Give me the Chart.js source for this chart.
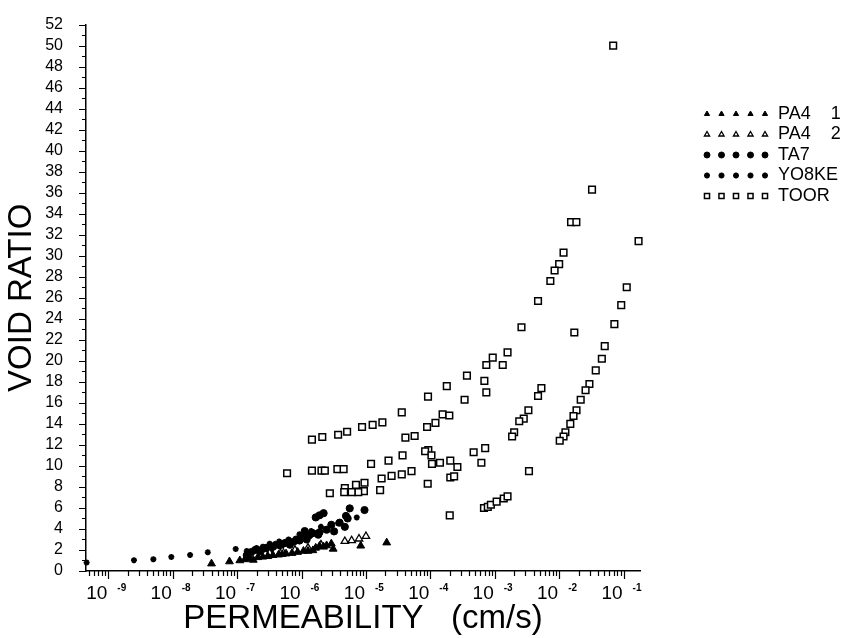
<!DOCTYPE html>
<html>
<head>
<meta charset="utf-8">
<script src="https://cdn.jsdelivr.net/npm/chart.js@4.4.1/dist/chart.umd.min.js"></script>
<style>
  html, body { margin: 0; padding: 0; background: #fff; }
  #wrap { width: 846px; height: 638px; }
</style>
</head>
<body>
<div id="wrap"><canvas id="chart" width="846" height="638"></canvas></div>
<script>
// permeability (cm/s) and void ratio
const pa41K = [4.0e-8, 7.6e-8, 1.1e-7, 1.32e-7, 1.58e-7, 1.78e-7, 2.1e-7, 2.5e-7, 3.0e-7, 3.6e-7,
  4.4e-7, 5.0e-7, 5.75e-7, 7.1e-7, 8.7e-7, 1.07e-6, 1.26e-6, 1.5e-6, 1.66e-6, 1.9e-6,
  2.2e-6, 2.45e-6, 2.9e-6, 3.1e-6, 8.3e-6, 2.1e-5];
const pa41E = [0.7, 0.9, 1.0, 1.1, 1.2, 1.05, 1.3, 1.35, 1.4, 1.5,
  1.55, 1.6, 1.65, 1.7, 1.8, 1.9, 1.9, 1.96, 2.2, 2.37,
  2.3, 2.43, 2.6, 2.1, 2.4, 2.7];

const pa42K = [3.2e-7, 5.0e-7, 7.9e-7, 1.26e-6, 2.0e-6, 4.7e-6, 6.0e-6, 7.8e-6, 1.0e-5];
const pa42E = [1.7, 1.9, 2.0, 2.2, 2.5, 2.83, 2.9, 3.06, 3.3];

const ta7K = [1.41e-7, 1.66e-7, 1.9e-7, 2.24e-7, 2.5e-7, 2.8e-7, 3.2e-7, 3.6e-7, 4.0e-7, 4.7e-7,
  5.2e-7, 5.75e-7, 6.6e-7, 7.6e-7, 8.3e-7, 9.3e-7, 1.05e-6, 1.12e-6, 1.2e-6, 1.32e-6,
  1.5e-6, 1.66e-6, 1.82e-6, 1.9e-6, 1.9e-6, 2.2e-6, 2.45e-6, 2.9e-6, 3.2e-6, 3.9e-6,
  4.7e-6, 4.9e-6, 5.2e-6, 5.6e-6, 9.5e-6];
const ta7E = [1.5, 1.8, 2.0, 1.9, 2.1, 2.2, 2.0, 2.3, 2.5, 2.4,
  2.6, 2.7, 2.5, 2.8, 3.0, 2.9, 3.2, 3.8, 3.0, 3.4,
  3.6, 5.1, 3.46, 5.3, 3.68, 5.5, 3.93, 4.4, 3.77, 4.6,
  4.2, 5.24, 5.0, 5.96, 5.8];

const yo8keK = [4.6e-10, 2.5e-9, 5.0e-9, 9.5e-9, 1.86e-8, 3.5e-8, 9.5e-8, 1.41e-7, 2.0e-7, 2.5e-7,
  3.2e-7, 4.5e-7, 6.3e-7, 9.3e-7, 1.41e-6, 2.0e-6, 3.7e-6, 7.2e-6];
const yo8keE = [0.8, 1.03, 1.12, 1.34, 1.53, 1.78, 2.1, 1.9, 2.2, 2.3,
  2.6, 2.8, 3.0, 3.5, 3.8, 4.2, 4.55, 5.1];

const toorK = [6.9e-2, 3.24e-2, 1.53e-2, 1.85e-2, 1.71e-1, 1.17e-2, 1.0e-2, 8.5e-3, 7.3e-3, 4.7e-3,
  2.6e-3, 1.72e-2, 1.12e-1, 9.2e-2, 7.2e-2, 5.1e-2, 4.6e-2, 3.7e-2, 2.95e-2, 2.57e-2,
  2.16e-2, 1.86e-2, 1.67e-2, 1.49e-2, 1.25e-2, 1.17e-2, 1.02e-2, 1.58e-3, 9.3e-4, 7.4e-4,
  1.33e-3, 6.9e-4, 7.4e-4, 5.3e-3, 4.7e-3, 3.33e-3, 2.82e-3, 2.4e-3, 2.0e-3, 1.86e-3,
  3.7e-4, 1.8e-4, 3.4e-4, 9.2e-5, 3.6e-5, 1.55e-4, 1.97e-4, 1.2e-4, 8.9e-5, 1.8e-5,
  1.27e-5, 8.7e-6, 5.1e-6, 3.7e-6, 2.1e-6, 1.45e-6, 4.1e-5, 5.7e-5, 9.3e-5, 8.3e-5,
  1.04e-4, 1.06e-4, 1.41e-4, 2.04e-4, 2.63e-4, 2.04e-4, 2.34e-4, 4.7e-4, 7.1e-4, 6.2e-4,
  3.7e-5, 2.24e-5, 1.2e-5, 5.1e-5, 3.6e-5, 2.5e-5, 1.75e-5, 9.5e-6, 7.0e-6, 4.7e-6,
  9.3e-6, 7.6e-6, 6.0e-6, 4.6e-6, 1.66e-5, 2.75e-6, 9.1e-5, 5.96e-7, 1.45e-6, 2.04e-6,
  2.3e-6, 3.6e-6, 4.5e-6, 2.0e-4, 6.8e-4, 7.8e-4, 8.7e-4, 1.07e-3, 1.38e-3, 1.58e-3,
  3.4e-3];
const toorE = [50.0, 36.3, 33.2, 33.2, 31.4, 30.3, 29.2, 28.6, 27.6, 25.7,
  23.2, 22.7, 27.0, 25.3, 23.5, 21.4, 20.2, 19.1, 17.8, 17.2,
  16.3, 15.3, 14.75, 14.0, 13.2, 12.8, 12.4, 20.8, 20.3, 19.6,
  19.6, 18.1, 17.0, 17.4, 16.65, 15.3, 14.5, 14.25, 13.2, 12.8,
  18.6, 17.6, 16.3, 16.6, 15.1, 14.9, 14.8, 14.1, 13.7, 14.15,
  13.9, 13.7, 13.25, 12.97, 12.75, 12.5, 12.7, 12.85, 11.5, 11.4,
  11.0, 10.2, 10.3, 10.5, 9.9, 8.9, 9.0, 11.3, 11.7, 10.3,
  11.0, 10.5, 10.2, 9.5, 9.2, 9.05, 8.8, 8.4, 8.2, 7.9,
  7.6, 7.5, 7.5, 7.5, 7.7, 7.4, 8.3, 9.3, 9.55, 9.55,
  9.55, 9.7, 9.7, 5.3, 6.0, 6.1, 6.3, 6.6, 6.9, 7.1,
  9.5];

const xDecades = [-9, -8, -7, -6, -5, -4, -3, -2, -1];
const X_MIN = 4.5e-10, X_MAX = 0.18;
const Y_MIN = 0, Y_MAX = 52;

const FONT = "'Liberation Sans', Arial, sans-serif";

function pts(ks, es) {
  return ks.map((k, i) => ({ x: k, y: es[i] }));
}

const series = [
  { label: "PA4    1", data: pts(pa41K, pa41E), pointStyle: "triangle", pointRadius: 4.5,
    backgroundColor: "#000", borderColor: "#000", borderWidth: 1 },
  { label: "PA4    2", data: pts(pa42K, pa42E), pointStyle: "triangle", pointRadius: 4.3,
    backgroundColor: "#fff", borderColor: "#000", borderWidth: 1.3 },
  { label: "TA7", data: pts(ta7K, ta7E), pointStyle: "circle", pointRadius: 3.6,
    backgroundColor: "#000", borderColor: "#000", borderWidth: 1 },
  { label: "YO8KE", data: pts(yo8keK, yo8keE), pointStyle: "star", pointRadius: 3,
    backgroundColor: "#000", borderColor: "#000", borderWidth: 1.8 },
  { label: "TOOR", data: pts(toorK, toorE), pointStyle: "rect", pointRadius: 4.7,
    backgroundColor: "#fff", borderColor: "#000", borderWidth: 1.5 },
];

// tick marks, decade labels with raised exponents, and the marker legend
const axisMarks = {
  id: "axisMarks",
  afterDraw(chart) {
    const { ctx } = chart;
    const x = chart.scales.x, y = chart.scales.y;
    ctx.save();
    ctx.strokeStyle = "#000";
    ctx.lineWidth = 1.2;
    ctx.beginPath();
    for (let v = Y_MIN; v <= Y_MAX; v++) {
      const py = Math.round(y.getPixelForValue(v)) + 0.5;
      const len = v % 2 === 0 ? 7 : 4;
      ctx.moveTo(x.left - len, py);
      ctx.lineTo(x.left, py);
    }
    for (let e = -10; e <= 0; e++) {
      for (let m = 1; m <= 9; m++) {
        const val = m * Math.pow(10, e);
        if (val < X_MIN || val > X_MAX) continue;
        const px = Math.round(x.getPixelForValue(val)) + 0.5;
        const len = m === 1 ? 8 : 5;
        ctx.moveTo(px, y.bottom);
        ctx.lineTo(px, y.bottom + len);
      }
    }
    ctx.stroke();

    ctx.fillStyle = "#000";
    ctx.textBaseline = "alphabetic";
    for (const e of xDecades) {
      const px = x.getPixelForValue(Math.pow(10, e));
      ctx.font = `19px ${FONT}`;
      ctx.textAlign = "right";
      ctx.fillText("10", px - 1, 599);
      ctx.font = `bold 10px ${FONT}`;
      ctx.textAlign = "left";
      ctx.fillText("-" + Math.abs(e), px + 9, 591);
    }

    // legend: five markers per row, then the name
    series.forEach((s, i) => {
      const ry = 114 + i * 20.5;
      for (let j = 0; j < 5; j++) {
        const mx = 707 + j * 14.5;
        ctx.fillStyle = s.backgroundColor;
        ctx.strokeStyle = s.borderColor;
        ctx.lineWidth = s.borderWidth;
        Chart.helpers.drawPoint(ctx, {
          pointStyle: s.pointStyle, rotation: 0,
          radius: s.pointStyle === "rect" ? 3.6 : 3,
          borderWidth: s.borderWidth,
        }, mx, ry);
      }
      ctx.fillStyle = "#000";
      ctx.font = `18px ${FONT}`;
      ctx.textAlign = "left";
      ctx.textBaseline = "middle";
      ctx.fillText(s.label, 778, ry);
    });
    ctx.restore();
  },
};

new Chart(document.getElementById("chart").getContext("2d"), {
  type: "scatter",
  data: {
    datasets: series.map(s => ({ ...s, showLine: false, clip: false, pointHoverRadius: s.pointRadius })),
  },
  options: {
    responsive: false,
    animation: false,
    events: [],
    layout: { padding: { top: 15, right: 206, bottom: 0, left: 0 } },
    plugins: { legend: { display: false }, tooltip: { enabled: false } },
    scales: {
      x: {
        type: "logarithmic",
        min: X_MIN, max: X_MAX,
        grid: { display: false },
        border: { display: true, color: "#000", width: 1.5 },
        ticks: { display: false },
        title: {
          display: true, text: "PERMEABILITY   (cm/s)", color: "#000",
          font: { family: FONT, size: 33 }, padding: { top: 0, bottom: -1 },
        },
        afterFit(scale) { scale.height = 67; },
      },
      y: {
        min: Y_MIN, max: Y_MAX,
        grid: { display: false },
        border: { display: true, color: "#000", width: 1.5 },
        ticks: {
          stepSize: 2, autoSkip: false, padding: 15, color: "#000",
          font: { family: FONT, size: 16 },
        },
        title: {
          display: true, text: "VOID RATIO", color: "#000",
          font: { family: FONT, size: 33 }, padding: { top: 2, bottom: 0 },
        },
        afterFit(scale) { scale.width = 86; },
      },
    },
  },
  plugins: [axisMarks],
});
</script>
</body>
</html>
